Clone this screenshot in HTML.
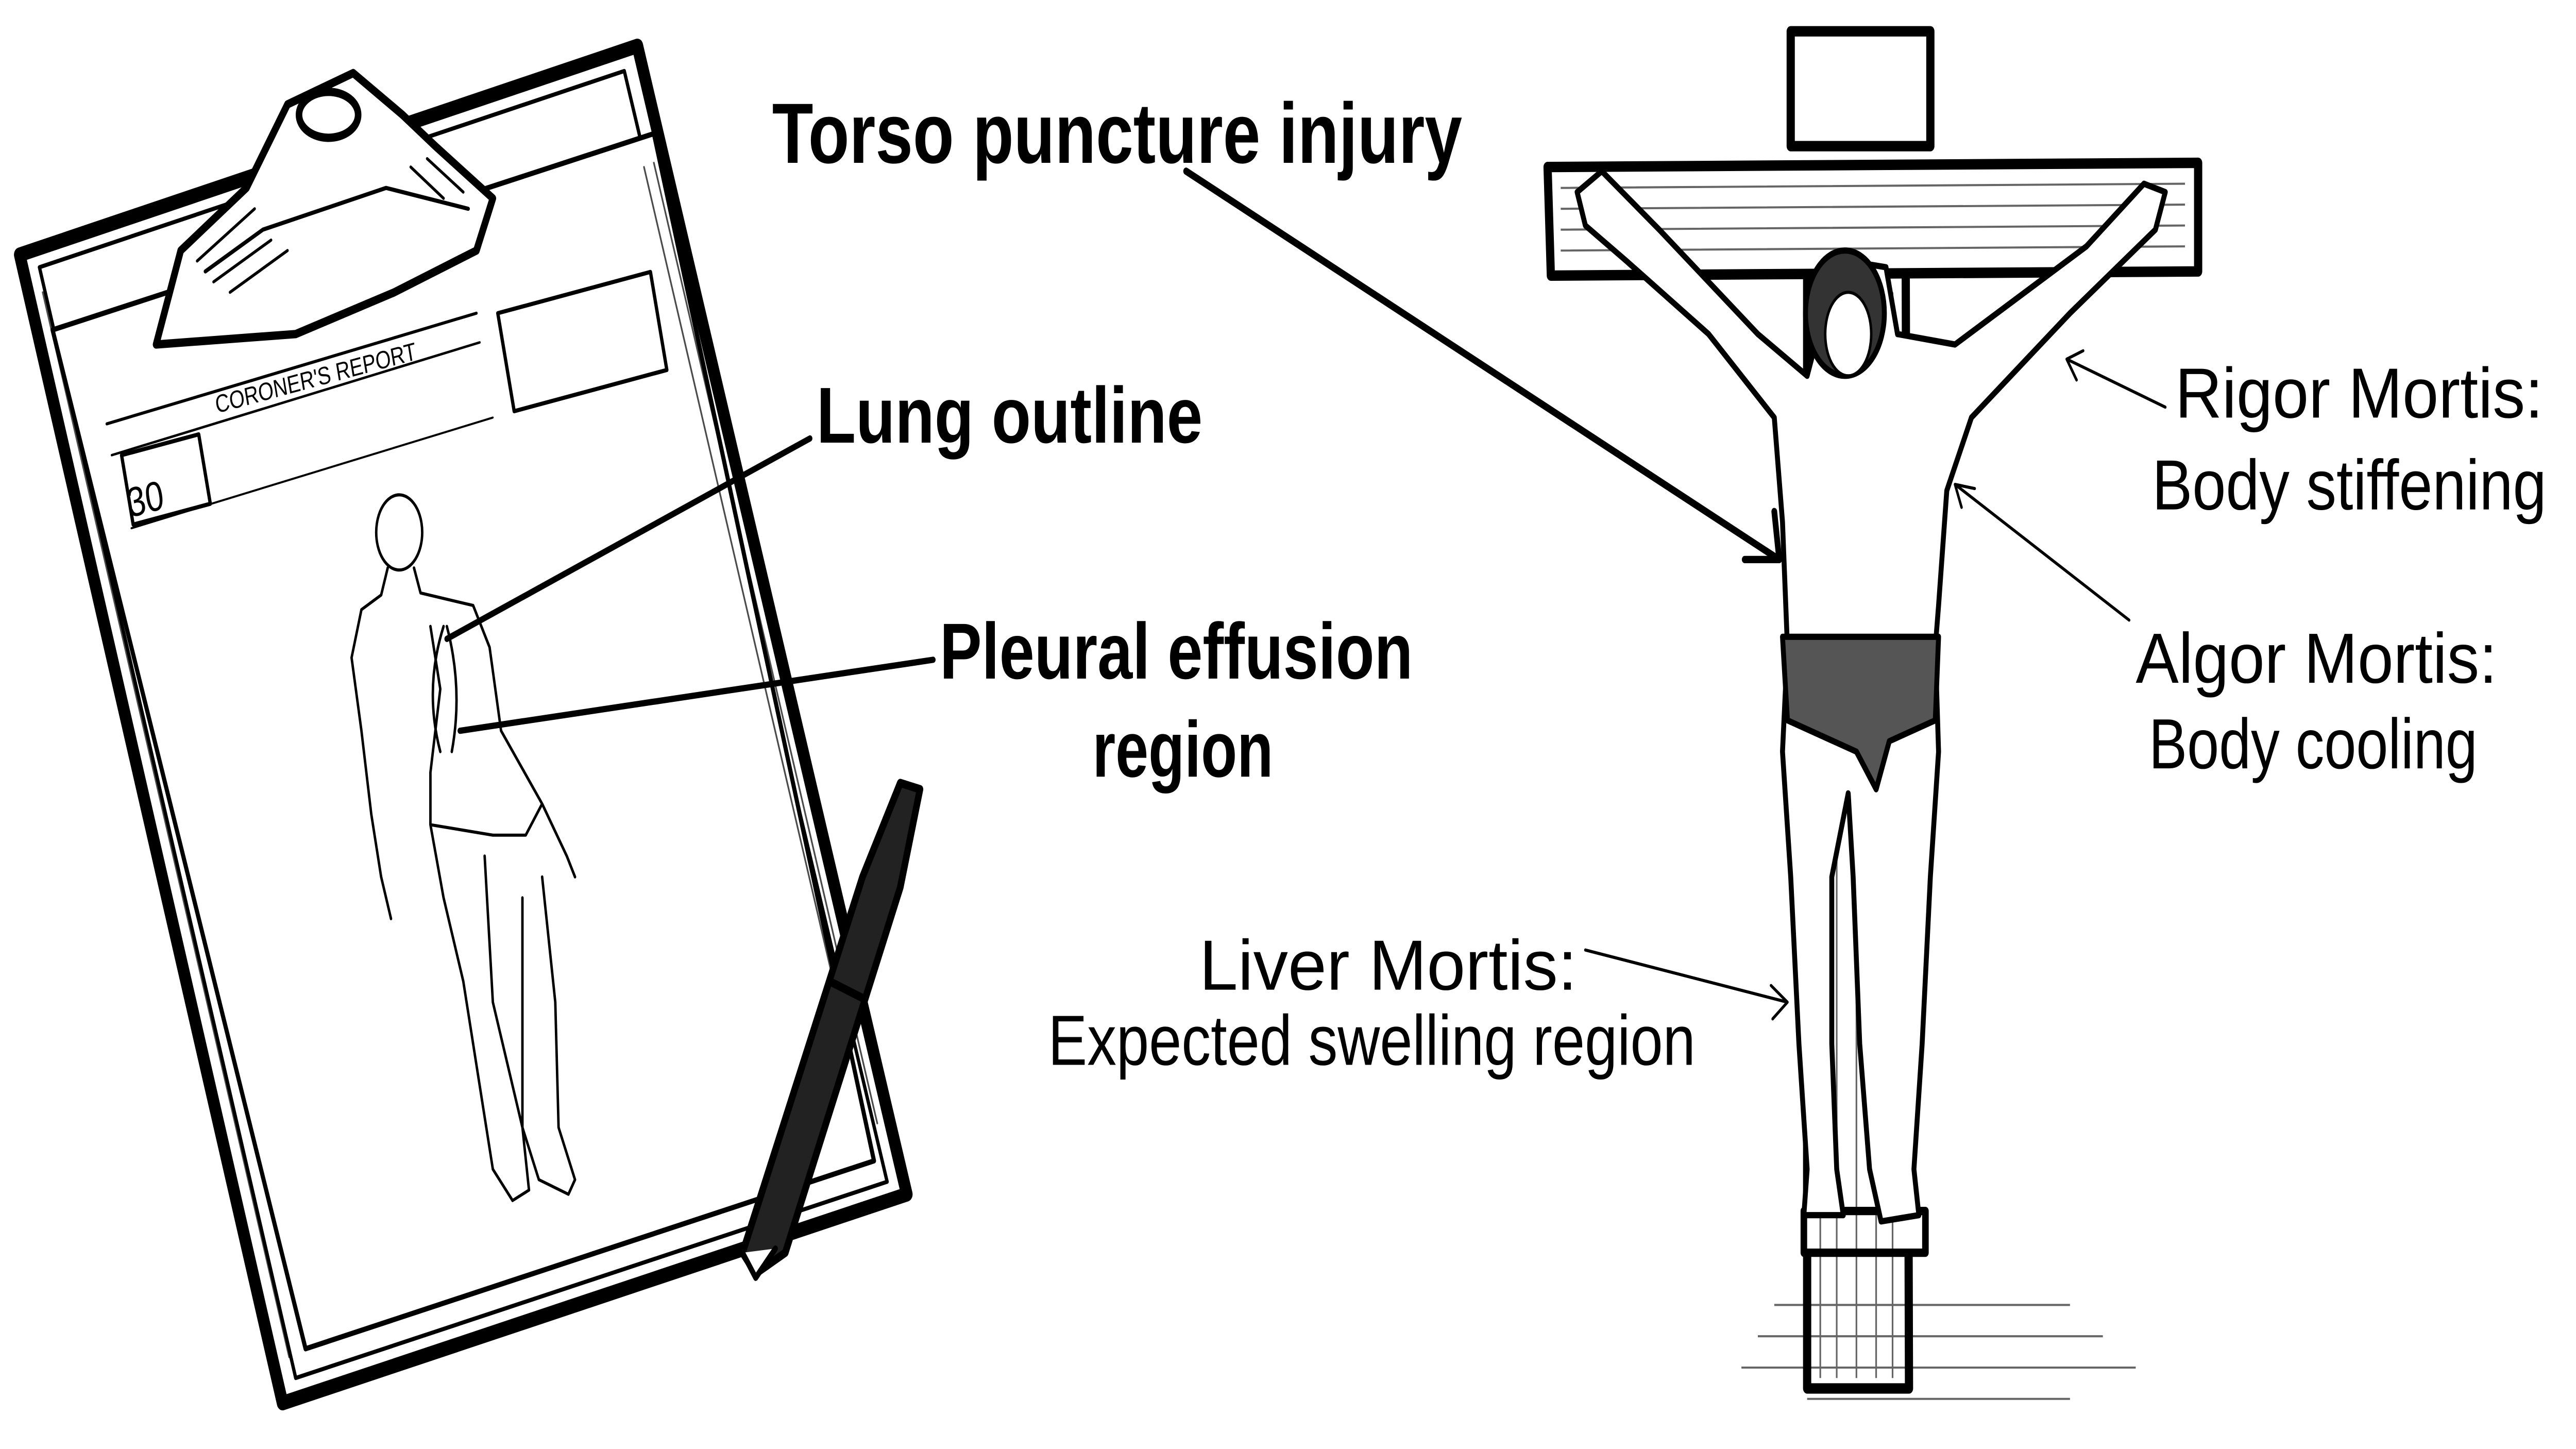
<!DOCTYPE html>
<html><head><meta charset="utf-8"><style>
html,body{margin:0;padding:0;background:#fff;width:100%;height:100%;overflow:hidden}
svg{display:block;position:absolute;left:0;top:0;width:100vw;height:100vh}
text{font-family:"Liberation Sans",sans-serif;fill:#000}
</style></head><body>
<svg viewBox="0 0 1568 694" preserveAspectRatio="none" xmlns="http://www.w3.org/2000/svg">
<rect width="1568" height="694" fill="#fff"/>
<g stroke="#000" fill="none" stroke-linejoin="round" stroke-linecap="round">
<polygon points="12,122 388,22 552,572 172,672" stroke-width="7" fill="#fff"/>
<polygon points="24,128 380,34 540,566 180,660" stroke-width="2"/>
<polygon points="32,158 398,64 532,556 186,646" stroke-width="2.5" fill="#fff"/>
<g stroke-width="1" opacity="0.7">
<line x1="392" y1="80" x2="528" y2="540"/><line x1="398" y1="78" x2="534" y2="538"/>
<line x1="26" y1="140" x2="176" y2="650"/>
</g>
<path d="M95,165 L110,120 L150,90 L175,50 L215,35 L245,55 L265,70 L300,95 L290,120 L240,140 L180,160 Z" stroke-width="4" fill="#fff"/>
<ellipse cx="200" cy="55" rx="18" ry="11" stroke-width="4" fill="#fff"/>
<path d="M125,130 L160,110 L235,90 L285,100" stroke-width="2"/>
<path d="M120,125 L155,100 M130,135 L165,115 M140,140 L175,120 M250,80 L270,95 M260,76 L282,92" stroke-width="1.5"/>
<line x1="65" y1="203" x2="290" y2="150" stroke-width="1.5"/>
<line x1="68" y1="218" x2="292" y2="164" stroke-width="1.2"/>
<rect x="303" y="150" width="95" height="48" transform="rotate(-12 303 150)" stroke-width="2"/>
<rect x="74" y="218" width="48" height="34" transform="rotate(-12 74 218)" stroke-width="2"/>
<line x1="80" y1="253" x2="300" y2="200" stroke-width="1"/>
<g stroke-width="1.5">
<ellipse cx="243" cy="255" rx="14" ry="18"/>
<path d="M236,272 L232,285 L220,292 L214,315 L220,350 L226,390 L232,420 L238,440 M252,272 L256,284 L288,290 L298,310 L305,350 L330,385 L345,410 L350,420 M262,300 L268,330 L262,370 L262,395 L270,430 L282,470 L292,520 L300,560 L312,575 L322,570 L318,540 L318,480 L318,430 M262,395 L300,400 L320,400 L330,385 M295,410 L300,480 L318,540 L328,565 L346,572 L350,565 L340,540 L338,480 L330,420"/>
<path d="M270,300 Q258,330 268,360 M272,300 Q282,330 275,360"/>
</g>
<path d="M460,610 L452,600 L525,420 L548,375 L560,378 L548,425 L478,600 Z" stroke-width="4" fill="#222"/>
<path d="M452,600 L460,612 L472,598" stroke-width="3" fill="#fff"/>
<path d="M505,470 L525,478" stroke-width="4"/>
</g>
<text x="132" y="198" font-size="12" transform="rotate(-12 132 198)">CORONER'S REPORT</text>
<text x="79" y="248" font-size="20" transform="rotate(-12 79 248)">30</text>
<g stroke="#000" fill="#fff" stroke-linejoin="round">
<polygon points="1100,128 1160,128 1162,665 1100,665" stroke-width="5"/>
<polygon points="942,80 1338,78 1338,130 944,132" stroke-width="5"/>
<polygon points="1090,15 1175,15 1175,70 1090,70" stroke-width="5"/>
<rect x="1098" y="580" width="74" height="20" stroke-width="4"/>
</g>
<g stroke="#000" stroke-width="1" opacity="0.6">
<path d="M950,90 L1330,88 M950,100 L1330,98 M950,110 L1330,108 M950,120 L1330,118 M1108,140 L1108,660 M1118,140 L1118,660 M1130,140 L1130,660 M1142,140 L1142,660 M1152,140 L1152,660"/>
<path d="M1070,640 L1280,640 M1060,655 L1300,655 M1080,625 L1260,625 M1100,670 L1260,670"/>
</g>
<g stroke="#000" fill="#fff" stroke-width="3" stroke-linejoin="round">
<path d="M960,92 L975,82 L1010,110 L1070,160 L1100,180 L1110,150 L1125,125 L1148,128 L1155,160 L1190,165 L1270,118 L1305,88 L1318,92 L1312,110 L1260,150 L1200,200 L1185,235 L1180,290 L1178,310 L1180,360 L1175,420 L1170,500 L1165,560 L1168,582 L1145,585 L1138,560 L1132,500 L1128,420 L1125,380 L1115,420 L1115,500 L1118,560 L1122,582 L1098,582 L1100,560 L1095,500 L1090,420 L1085,360 L1088,310 L1085,250 L1080,200 L1040,160 L990,125 L965,108 Z"/>
<path d="M1085,305 L1180,305 L1178,345 L1150,355 L1142,378 L1130,360 L1088,345 Z" fill="#555"/>
<ellipse cx="1123" cy="150" rx="24" ry="30" fill="#333"/>
<ellipse cx="1125" cy="160" rx="14" ry="20" fill="#fff" stroke-width="1.5"/>
</g>
<text x="470" y="78" font-size="41" font-weight="bold" textLength="420" lengthAdjust="spacingAndGlyphs">Torso puncture injury</text>
<text x="497" y="212" font-size="38" font-weight="bold" textLength="235" lengthAdjust="spacingAndGlyphs">Lung outline</text>
<text x="572" y="325" font-size="38" font-weight="bold" textLength="288" lengthAdjust="spacingAndGlyphs">Pleural effusion</text>
<text x="665" y="372" font-size="38" font-weight="bold" textLength="110" lengthAdjust="spacingAndGlyphs">region</text>
<text x="1324" y="200" font-size="34" textLength="224" lengthAdjust="spacingAndGlyphs">Rigor Mortis:</text>
<text x="1310" y="244" font-size="34" textLength="240" lengthAdjust="spacingAndGlyphs">Body stiffening</text>
<text x="1300" y="327" font-size="34" textLength="220" lengthAdjust="spacingAndGlyphs">Algor Mortis:</text>
<text x="1308" y="368" font-size="34" textLength="200" lengthAdjust="spacingAndGlyphs">Body cooling</text>
<text x="730" y="474" font-size="34" textLength="230" lengthAdjust="spacingAndGlyphs">Liver Mortis:</text>
<text x="638" y="510" font-size="34" textLength="394" lengthAdjust="spacingAndGlyphs">Expected swelling region</text>
<g stroke="#000" fill="none" stroke-linecap="round" stroke-linejoin="round">
<path d="M722,82 L1083,268" stroke-width="3.5"/>
<path d="M1062,268 L1083,268 L1080,245" stroke-width="3.5"/>
<path d="M493,210 L272,306" stroke-width="3"/>
<path d="M568,316 L280,350" stroke-width="3"/>
<path d="M1318,195 L1258,172 M1258,172 L1268,168 M1258,172 L1264,182" stroke-width="1.5"/>
<path d="M1296,297 L1190,232 M1190,232 L1202,234 M1190,232 L1194,243" stroke-width="1.5"/>
<path d="M965,455 L1088,480 M1088,480 L1078,472 M1088,480 L1079,488" stroke-width="1.5"/>
</g>
</svg>
</body></html>
